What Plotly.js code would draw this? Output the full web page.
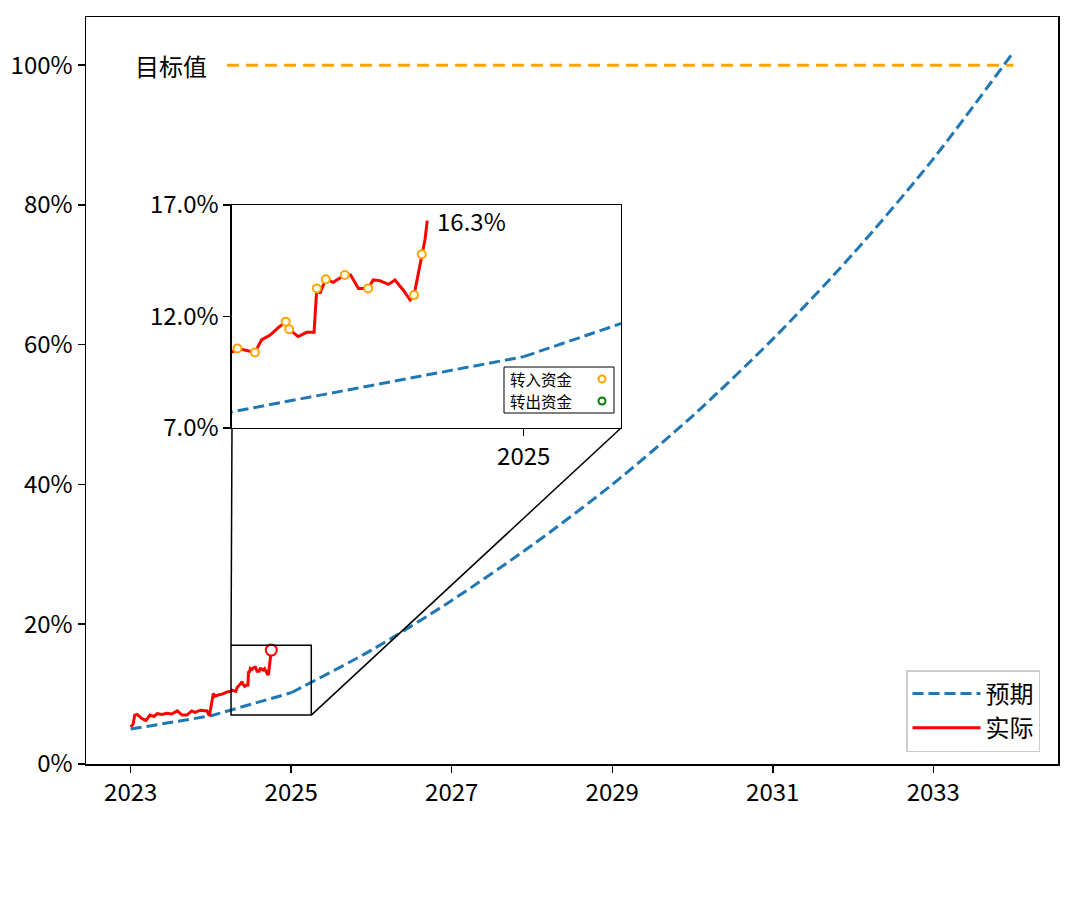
<!DOCTYPE html>
<html>
<head>
<meta charset="utf-8">
<script src="https://cdn.plot.ly/plotly-3.0.1.min.js"></script>
<style>html,body{margin:0;padding:0;background:#fff;}</style>
</head>
<body>
<div id="chart" style="width:1080px;height:899px;"></div>
<script>
// ---- data ----
const expectedYearsA = [2023, 2024, 2025];
const expectedValsA = [5.0, 6.9, 10.2];
const expectedYearsB = [2025, 2026, 2027, 2028, 2029, 2030, 2031, 2032, 2033, 2034];
const expectedValsB = [10.2, 16.3, 23.4, 31.3, 40.0, 49.8, 60.8, 73.0, 86.6, 101.9];

const actualYears = [2023.00, 2023.03, 2023.05, 2023.08, 2023.14, 2023.19, 2023.24, 2023.29, 2023.33, 2023.39,
  2023.45, 2023.51, 2023.58, 2023.64, 2023.70, 2023.76, 2023.80, 2023.87, 2023.95, 2023.98,
  2024.03, 2024.05, 2024.10, 2024.14, 2024.20, 2024.252, 2024.264, 2024.309, 2024.326, 2024.348,
  2024.369, 2024.388, 2024.397, 2024.420, 2024.442, 2024.461, 2024.468, 2024.476, 2024.491, 2024.510,
  2024.540, 2024.555, 2024.575, 2024.600, 2024.613, 2024.630, 2024.652, 2024.669, 2024.690, 2024.708,
  2024.718, 2024.738, 2024.746, 2024.752];
const actualVals = [5.3, 5.7, 7.0, 7.1, 6.5, 6.2, 7.0, 6.8, 7.2, 7.1,
  7.25, 7.15, 7.6, 7.0, 7.0, 7.6, 7.4, 7.7, 7.6, 6.9,
  10.1, 9.7, 9.9, 10.0, 10.3, 10.42, 10.57, 10.39, 10.95, 11.17,
  11.5, 11.77, 11.43, 11.1, 11.29, 11.29, 13.26, 13.04, 13.67, 13.53,
  13.86, 13.86, 13.26, 13.26, 13.64, 13.61, 13.44, 13.64, 13.19, 12.74,
  12.96, 14.79, 15.43, 16.3];

const transferInYears = [2024.264, 2024.309, 2024.388, 2024.397, 2024.468, 2024.491, 2024.540, 2024.600, 2024.718, 2024.738];
const transferInVals = [10.57, 10.39, 11.77, 11.43, 13.26, 13.67, 13.86, 13.26, 12.96, 14.79];
const transferOutYears = [];
const transferOutVals = [];

const targetYears = [2024.2, 2034];
const targetVals = [100, 100];

const mainXTicks = [2023, 2025, 2027, 2029, 2031, 2033];
const mainYTicks = [0, 20, 40, 60, 80, 100];
const insetXTicks = [2025];
const insetYTicks = [7, 12, 17];
const insetLegendLabels = ['转入资金', '转出资金'];

// ---- styling / layout ----
const FONT = '"Noto Sans CJK SC", "Microsoft YaHei", "Noto Sans", sans-serif';
const FS = 24;
const BLUE = '#1f77b4', RED = '#ff0000', ORANGE = '#ffa500', GREEN = '#008000';
const mainXRange = [2022.443, 2034.554];
const mainYRange = [0, 106.9];
const insetXRange = [2024.25, 2025.25];
const insetYRange = [7, 17];
const insetDomX = [0.1502, 0.5504];
const insetDomY = [0.4498, 0.7483];

const blueLine = {color: BLUE, width: 3, dash: '11px,5px'};

const traces = [
  {x: expectedYearsA, y: expectedValsA, mode: 'lines', name: '预期', line: blueLine, legendgroup: 'exp', hoverinfo: 'skip'},
  {x: expectedYearsB, y: expectedValsB, mode: 'lines', name: '预期', line: Object.assign({shape: 'spline', smoothing: 0.8}, blueLine), legendgroup: 'exp', showlegend: false, hoverinfo: 'skip'},
  {x: actualYears, y: actualVals, mode: 'lines', name: '实际', line: {color: RED, width: 3}},
  {x: targetYears, y: targetVals, mode: 'lines', showlegend: false, line: {color: ORANGE, width: 3, dash: '12px,7px'}},
  {x: [actualYears[actualYears.length - 1]], y: [actualVals[actualVals.length - 1]], mode: 'markers', showlegend: false,
   marker: {symbol: 'circle', size: 11, color: '#ffffff', line: {color: RED, width: 2}}},
  // inset
  {x: expectedYearsA, y: expectedValsA, xaxis: 'x2', yaxis: 'y2', mode: 'lines', showlegend: false, line: blueLine},
  {x: expectedYearsB, y: expectedValsB, xaxis: 'x2', yaxis: 'y2', mode: 'lines', showlegend: false, line: Object.assign({shape: 'spline', smoothing: 0.8}, blueLine)},
  {x: actualYears, y: actualVals, xaxis: 'x2', yaxis: 'y2', mode: 'lines', showlegend: false, line: {color: RED, width: 3}},
  {x: transferInYears, y: transferInVals, xaxis: 'x2', yaxis: 'y2', mode: 'markers', showlegend: false,
   marker: {symbol: 'circle', size: 8, color: '#ffffff', line: {color: ORANGE, width: 2}}},
  {x: transferOutYears, y: transferOutVals, xaxis: 'x2', yaxis: 'y2', mode: 'markers', showlegend: false,
   marker: {symbol: 'circle', size: 8, color: '#ffffff', line: {color: GREEN, width: 2}}}
];

// inset corners in main-data coordinates (for connector lines)
const toMainX = f => mainXRange[0] + f * (mainXRange[1] - mainXRange[0]);
const toMainY = f => mainYRange[0] + f * (mainYRange[1] - mainYRange[0]);
const insetBL = [toMainX(insetDomX[0]), toMainY(insetDomY[0])];
const insetBR = [toMainX(insetDomX[1]), toMainY(insetDomY[0])];

const lastX = actualYears[actualYears.length - 1];
const lastY = actualVals[actualVals.length - 1];

const axisCommon = {showline: true, mirror: true, linecolor: '#000', linewidth: 1.5, ticks: 'outside', ticklen: 7, tickwidth: 1.5,
  tickcolor: '#000', showgrid: false, zeroline: false, tickfont: {family: FONT, size: FS, color: '#000'}};

// inset legend geometry (pixel-based paper fractions)
const PW = 972, PH = 747, PL = 86, PB = 764;
const px = v => (v - PL) / PW, py = v => (PB - v) / PH;
const legRowY = [379, 401];

const layout = {
  width: 1080, height: 899,
  margin: {l: 86, r: 22, t: 17, b: 135},
  paper_bgcolor: '#fff', plot_bgcolor: '#fff',
  font: {family: FONT, color: '#000'},
  xaxis: Object.assign({}, axisCommon, {range: mainXRange, tickvals: mainXTicks, ticktext: mainXTicks.map(String)}),
  yaxis: Object.assign({}, axisCommon, {range: mainYRange, tickvals: mainYTicks, ticktext: mainYTicks.map(v => v + '%')}),
  xaxis2: Object.assign({}, axisCommon, {domain: insetDomX, anchor: 'y2', range: insetXRange, tickvals: insetXTicks, ticktext: insetXTicks.map(String)}),
  yaxis2: Object.assign({}, axisCommon, {domain: insetDomY, anchor: 'x2', range: insetYRange, tickvals: insetYTicks, ticktext: insetYTicks.map(v => v.toFixed(1) + '%')}),
  showlegend: true,
  legend: {x: px(906), y: py(752), xanchor: 'left', yanchor: 'bottom', bgcolor: '#fff', bordercolor: '#cccccc', borderwidth: 1.5,
    font: {family: FONT, size: FS, color: '#000'}, itemwidth: 68, tracegroupgap: 0},
  shapes: [
    {type: 'rect', xref: 'x', yref: 'y', x0: insetXRange[0], x1: insetXRange[1], y0: insetYRange[0], y1: insetYRange[1], line: {color: '#000', width: 1.5}},
    {type: 'line', xref: 'x', yref: 'y', x0: insetXRange[0], y0: insetYRange[1], x1: insetBL[0], y1: insetBL[1], line: {color: '#000', width: 1.5}},
    {type: 'line', xref: 'x', yref: 'y', x0: insetXRange[1], y0: insetYRange[0], x1: insetBR[0], y1: insetBR[1], line: {color: '#000', width: 1.5}},
    // inset legend frame and symbols
    {type: 'rect', xref: 'paper', yref: 'paper', x0: px(504), x1: px(614), y0: py(413), y1: py(367), line: {color: '#000', width: 1}, fillcolor: '#fff', layer: 'above'},
    {type: 'circle', xref: 'paper', yref: 'paper', xsizemode: 'pixel', ysizemode: 'pixel', xanchor: px(602), yanchor: py(legRowY[0]), x0: -3.5, x1: 3.5, y0: -3.5, y1: 3.5, line: {color: ORANGE, width: 2}, fillcolor: '#fff', layer: 'above'},
    {type: 'circle', xref: 'paper', yref: 'paper', xsizemode: 'pixel', ysizemode: 'pixel', xanchor: px(602), yanchor: py(legRowY[1]), x0: -3.5, x1: 3.5, y0: -3.5, y1: 3.5, line: {color: GREEN, width: 2}, fillcolor: '#fff', layer: 'above'}
  ],
  annotations: [
    {x: targetYears[0], y: targetVals[0], xref: 'x', yref: 'y', text: '目标值', showarrow: false, xanchor: 'right', xshift: -18,
     font: {family: FONT, size: FS, color: '#000'}},
    {x: lastX, y: lastY, xref: 'x2', yref: 'y2', text: lastY.toFixed(1) + '%', showarrow: false, xanchor: 'left', xshift: 8,
     font: {family: FONT, size: FS, color: '#000'}}
  ].concat(insetLegendLabels.map((t, i) => ({
    x: px(509), y: py(legRowY[i]), xref: 'paper', yref: 'paper', text: t, showarrow: false, xanchor: 'left', yanchor: 'middle',
    font: {family: FONT, size: 15.5, color: '#000'}, borderpad: 0
  })))
};

Plotly.newPlot('chart', traces, layout, {displayModeBar: false, staticPlot: true});
</script>
</body>
</html>
